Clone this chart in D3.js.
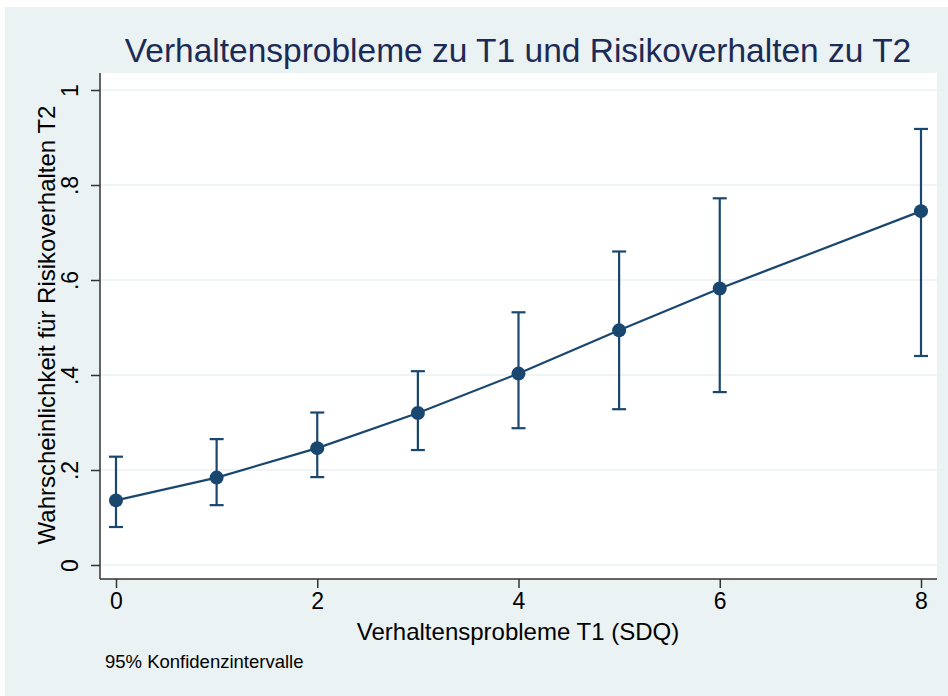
<!DOCTYPE html>
<html>
<head>
<meta charset="utf-8">
<script src="https://cdn.jsdelivr.net/npm/d3@7"></script>
<style>
  body { margin: 0; background: #fff; }
  svg { display: block; font-family: "Liberation Sans", Arial, sans-serif; }
</style>
</head>
<body>
<svg id="chart" width="948" height="696"></svg>
<script>
// data
var sdq = [0, 1, 2, 3, 4, 5, 6, 8]
var prob = [0.136, 0.184, 0.246, 0.320, 0.403, 0.494, 0.582, 0.745]
var lower = [0.080, 0.126, 0.185, 0.242, 0.288, 0.328, 0.364, 0.440]
var upper = [0.228, 0.265, 0.321, 0.408, 0.532, 0.660, 0.772, 0.918]
var xTicks = [0, 2, 4, 6, 8]
var yTicks = [0, 0.2, 0.4, 0.6, 0.8, 1]
var yLabels = ["0", ".2", ".4", ".6", ".8", "1"]

var navy = "#1a476f"
var svg = d3.select("#chart")

// outer graph region
svg.append("rect").attr("x", 5).attr("y", 7).attr("width", 943).attr("height", 689).attr("fill", "#eaf2f3")

var x = d3.scaleLinear().domain([0, 8]).range([116, 921])
var y = d3.scaleLinear().domain([0, 1]).range([565, 90])

// plot region
svg.append("rect").attr("x", 100).attr("y", 73).attr("width", 837).attr("height", 506).attr("fill", "#fff")

// grid
svg.append("g").selectAll("line").data(yTicks).join("line")
  .attr("x1", 101).attr("x2", 937)
  .attr("y1", d => y(d)).attr("y2", d => y(d))
  .attr("stroke", "#eaf2f3").attr("stroke-width", 1.5)

// axes
var yAxis = svg.append("g").attr("transform", "translate(100,0)")
  .call(d3.axisLeft(y).tickValues(yTicks).tickSize(9).tickFormat((d, i) => yLabels[i]))
yAxis.select(".domain").attr("d", "M0,73V579").attr("stroke", "#333").attr("stroke-width", 1.5)
yAxis.selectAll(".tick line").attr("stroke", "#333").attr("stroke-width", 1.5)
yAxis.selectAll(".tick text")
  .attr("x", null).attr("dy", null)
  .attr("transform", "translate(-28,0) rotate(-90)")
  .attr("text-anchor", "middle").attr("dominant-baseline", "middle")
  .style("font-size", "23px").style("fill", "#000")

var xAxis = svg.append("g").attr("transform", "translate(0,579)")
  .call(d3.axisBottom(x).tickValues(xTicks).tickSize(9))
xAxis.select(".domain").attr("d", "M100,0H937").attr("stroke", "#333").attr("stroke-width", 1.5)
xAxis.selectAll(".tick line").attr("stroke", "#333").attr("stroke-width", 1.5)
xAxis.selectAll(".tick text").attr("y", 14).attr("dy", "0.71em").style("font-size", "23px").style("fill", "#000")

// error bars
var bars = svg.append("g").attr("stroke", navy).attr("stroke-width", 2.2).attr("fill", "none")
sdq.forEach(function (d, i) {
  bars.append("line").attr("x1", x(d)).attr("x2", x(d)).attr("y1", y(lower[i])).attr("y2", y(upper[i]))
  bars.append("line").attr("x1", x(d) - 7).attr("x2", x(d) + 7).attr("y1", y(lower[i])).attr("y2", y(lower[i]))
  bars.append("line").attr("x1", x(d) - 7).attr("x2", x(d) + 7).attr("y1", y(upper[i])).attr("y2", y(upper[i]))
})

// line + markers
svg.append("path").datum(sdq)
  .attr("d", d3.line().x(d => x(d)).y((d, i) => y(prob[i])))
  .attr("fill", "none").attr("stroke", navy).attr("stroke-width", 2.2)
svg.append("g").selectAll("circle").data(sdq).join("circle")
  .attr("cx", d => x(d)).attr("cy", (d, i) => y(prob[i])).attr("r", 7).attr("fill", navy)

// titles
svg.append("text").attr("x", 518).attr("y", 62).attr("text-anchor", "middle")
  .text("Verhaltensprobleme zu T1 und Risikoverhalten zu T2")
  .style("font-size", "33.5px").style("fill", "#1c2b55")
svg.append("text").attr("x", 518).attr("y", 640).attr("text-anchor", "middle")
  .text("Verhaltensprobleme T1 (SDQ)").style("font-size", "24px")
svg.append("text").attr("transform", "translate(55,325) rotate(-90)").attr("text-anchor", "middle")
  .text("Wahrscheinlichkeit für Risikoverhalten T2").style("font-size", "24px")
svg.append("text").attr("x", 105).attr("y", 668)
  .text("95% Konfidenzintervalle").style("font-size", "18.5px")
</script>
</body>
</html>
